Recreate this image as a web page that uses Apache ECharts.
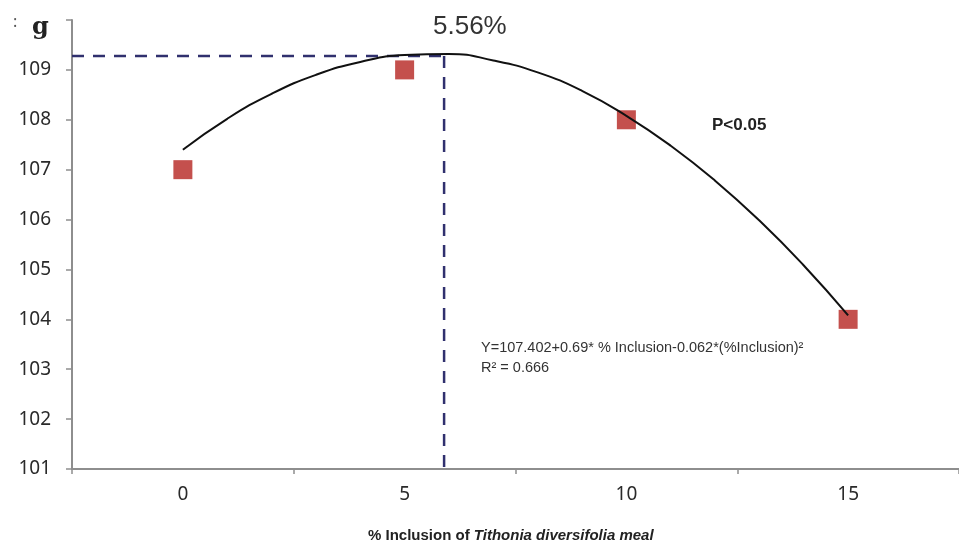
<!DOCTYPE html>
<html>
<head>
<meta charset="utf-8">
<script src="https://cdn.jsdelivr.net/npm/echarts@6/dist/echarts.min.js"></script>
<style>
html,body{margin:0;padding:0;background:#fff;}
#c{width:959px;height:546px;}
</style>
</head>
<body>
<div id="c"></div>
<script>
// Categories / tick labels
const xCategories = ['0', '5', '10', '15'];
// Observed means (g)
const inclusion = [0, 5, 10, 15];
const observed = [107, 109, 108, 104];
// Fitted quadratic curve
const curveX = [0, 1, 2, 3, 4, 5, 6, 7, 8, 9, 10, 11, 12, 13, 14, 15];
const curveY = [107.40, 108.02, 108.52, 108.90, 109.16, 109.30, 109.32, 109.19, 108.95, 108.58, 108.08, 107.48, 106.78, 105.98, 105.08, 104.08];
// Optimum guide lines
const optimumX = 5.89;
const optimumY = 109.28;
const yMin = 101, yMax = 110;
const yTopLabel = 'g';

const chart = echarts.init(document.getElementById('c'));
const labelFont = 'Noto Sans';
chart.setOption({
  animation: false,
  backgroundColor: '#fff',
  grid: { left: 72, top: 20, width: 896, height: 449 },
  xAxis: [
    {
      type: 'category',
      data: xCategories,
      boundaryGap: true,
      axisLine: { lineStyle: { color: '#8e8e8e', width: 2 } },
      axisTick: { show: true, length: 5, lineStyle: { color: '#8e8e8e', width: 1.5 } },
      axisLabel: { color: '#2a2a2a', fontSize: 19, fontFamily: labelFont, margin: 16 },
      splitLine: { show: false }
    },
    {
      type: 'value',
      min: -2.5,
      max: 17.5,
      show: false,
      splitLine: { show: false }
    }
  ],
  yAxis: {
    type: 'value',
    min: yMin,
    max: yMax,
    interval: 1,
    axisLine: { show: true, onZero: false, lineStyle: { color: '#8e8e8e', width: 2 } },
    axisTick: { show: true, length: 6, lineStyle: { color: '#8e8e8e', width: 1.5 } },
    axisLabel: {
      color: '#2a2a2a', fontSize: 19, fontFamily: labelFont, margin: 21,
      formatter: function (v) { return v === yMax ? '' : String(v); }
    },
    splitLine: { show: false }
  },
  series: [
    {
      type: 'line',
      xAxisIndex: 1,
      data: [[-2.5, optimumY], [optimumX, optimumY]],
      symbol: 'none',
      lineStyle: { color: '#30306e', width: 2.5, type: [12, 9] },
      z: 1
    },
    {
      type: 'line',
      xAxisIndex: 1,
      data: [[optimumX, optimumY], [optimumX, yMin]],
      symbol: 'none',
      lineStyle: { color: '#30306e', width: 2.5, type: [12, 9] },
      z: 1
    },
    {
      type: 'scatter',
      xAxisIndex: 1,
      data: inclusion.map((x, i) => [x, observed[i]]),
      symbol: 'rect',
      symbolSize: 19,
      itemStyle: { color: '#c4504d', opacity: 1 },
      z: 3
    },
    {
      type: 'line',
      xAxisIndex: 1,
      data: curveX.map((x, i) => [x, curveY[i]]),
      smooth: true,
      symbol: 'none',
      lineStyle: { color: '#111', width: 2 },
      z: 4
    }
  ],
  graphic: [
    { type: 'text', left: 13, top: 14, style: { text: ':', fontSize: 16, fill: '#555', fontFamily: labelFont } },
    { type: 'text', left: 32, top: 16, style: { text: yTopLabel, fontSize: 24, fontWeight: 'bold', fill: '#222', fontFamily: 'DejaVu Serif' } },
    { type: 'text', left: 433, top: 14, style: { text: '5.56%', fontSize: 26, fill: '#333', fontFamily: 'Liberation Sans' } },
    { type: 'text', left: 712, top: 117, style: { text: 'P<0.05', fontSize: 17, fontWeight: 'bold', fill: '#222', fontFamily: 'Liberation Sans' } },
    { type: 'text', left: 481, top: 338, style: { text: 'Y=107.402+0.69* % Inclusion-0.062*(%Inclusion)²\nR² = 0.666', fontSize: 14.5, lineHeight: 20, fill: '#333', fontFamily: 'Liberation Sans' } },
    {
      type: 'text', left: 368, top: 528,
      style: {
        text: '{a|% Inclusion of }{b|Tithonia diversifolia meal}',
        rich: {
          a: { fontSize: 15, fontWeight: 'bold', fill: '#222', fontFamily: 'Liberation Sans' },
          b: { fontSize: 15, fontWeight: 'bold', fontStyle: 'italic', fill: '#222', fontFamily: 'Liberation Sans' }
        }
      }
    }
  ]
});
</script>
</body>
</html>
